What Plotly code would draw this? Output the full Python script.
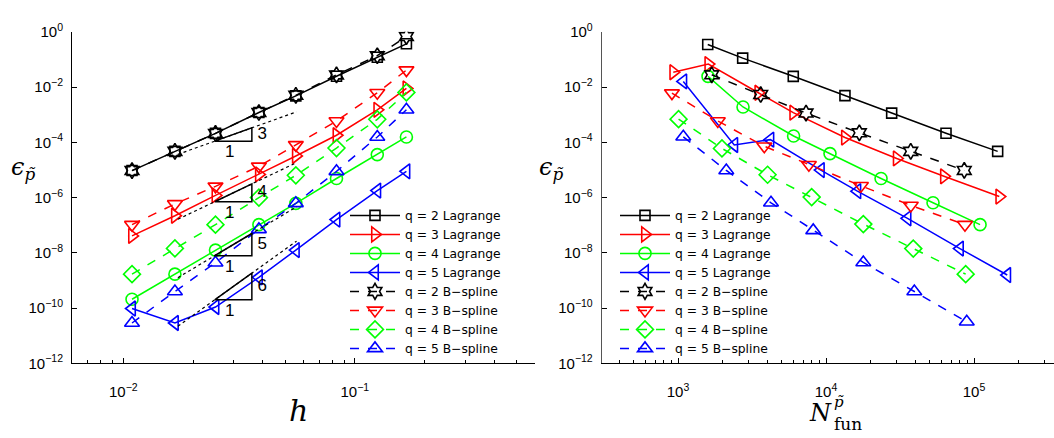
import numpy as np
import plotly.graph_objects as go

# ---------------- data: left panel (error vs mesh size h) ----------------
h = [0.0109, 0.0167, 0.0250, 0.0385, 0.0556, 0.0833, 0.125, 0.167]
left_lag2 = [9.5e-6, 4.7e-5, 2.1e-4, 1.2e-3, 4.8e-3, 2.45e-2, 0.120, 0.366]
left_lag3 = [4.1e-8, 2.2e-7, 1.2e-6, 6.9e-6, 3.2e-5, 1.8e-4, 1.5e-3, 8.9e-3]
left_lag4 = [2.1e-10, 1.7e-9, 1.26e-8, 1.05e-7, 6.2e-7, 4.9e-6, 3.6e-5, 1.56e-4]
left_lag5 = [9.7e-11, 2.9e-11, 1.1e-10, 1.3e-9, 1.26e-8, 1.6e-7, 1.8e-6, 8.9e-6]
left_bsp2 = [9.5e-6, 4.7e-5, 2.1e-4, 1.2e-3, 5.0e-3, 2.75e-2, 0.136, 0.67]
left_bsp3 = [1.05e-7, 5.9e-7, 2.55e-6, 1.35e-5, 8.1e-5, 5.9e-4, 6.2e-3, 4.1e-2]
left_bsp4 = [1.7e-9, 1.45e-8, 1.05e-7, 1.0e-6, 6.4e-6, 6.2e-5, 6.8e-4, 6.4e-3]
left_bsp5 = [2.9e-11, 4.0e-10, 4.4e-9, 7.1e-8, 6.2e-7, 8.9e-6, 1.56e-4, 1.5e-3]

# slope triangles (orders, base error at left corner) and their h extent
slope_orders = [3, 4, 5, 6]
slope_base = [1.1e-4, 7.1e-7, 7.9e-9, 2.0e-10]
tri_h = [0.0248, 0.0359]
ref_h = [0.0172, 0.056]

# ---------------- data: right panel (error vs number of functions) ----------------
N_lag2 = [1588, 2735, 6010, 13430, 27780, 64700, 144500]
E_lag2 = [0.347, 0.111, 0.0244, 4.9e-3, 1.14e-3, 2.14e-4, 4.7e-5]
N_lag3 = [929, 1603, 3490, 6010, 13430, 30060, 62660, 148200]
E_lag3 = [0.0343, 0.0676, 6.2e-3, 1.18e-3, 1.49e-4, 2.6e-5, 5.9e-6, 1.09e-6]
N_lag4 = [1595, 2750, 6040, 10640, 23550, 52860, 109900]
E_lag4 = [0.0244, 1.9e-3, 1.69e-4, 3.9e-5, 4.9e-6, 6.5e-7, 1.05e-7]
N_lag5 = [1086, 2400, 4210, 9230, 16290, 35540, 80340, 167700]
E_lag5 = [0.0159, 8.0e-5, 1.25e-4, 9.9e-6, 1.71e-6, 1.78e-7, 1.43e-8, 1.58e-9]
N_bsp2 = [1690, 3620, 7330, 16800, 37370, 85940]
E_bsp2 = [0.0277, 5.36e-3, 1.14e-3, 2.2e-4, 4.7e-5, 9.6e-6]
N_bsp3 = [910, 1858, 3830, 7660, 17220, 37410, 86900]
E_bsp3 = [6.04e-3, 5.9e-4, 7.2e-5, 1.55e-5, 2.67e-6, 5.2e-7, 1.05e-7]
N_bsp4 = [1009, 1982, 4030, 8000, 17870, 38870, 87870]
E_bsp4 = [6.9e-4, 6.0e-5, 6.7e-6, 1.04e-6, 1.1e-7, 1.43e-8, 1.7e-9]
N_bsp5 = [1086, 2120, 4250, 8200, 17870, 39520, 89300]
E_bsp5 = [1.58e-4, 9.6e-6, 6.5e-7, 6.5e-8, 4.5e-9, 4.0e-10, 3.2e-11]

series_names = ["q = 2 Lagrange", "q = 3 Lagrange", "q = 4 Lagrange", "q = 5 Lagrange",
                "q = 2 B\u2212spline", "q = 3 B\u2212spline", "q = 4 B\u2212spline", "q = 5 B\u2212spline"]

y_tickvals = [1e-12, 1e-10, 1e-8, 1e-6, 1e-4, 1e-2, 1e0]
y_ticktext = ["10<sup>\u221212</sup>", "10<sup>\u221210</sup>", "10<sup>\u22128</sup>",
              "10<sup>\u22126</sup>", "10<sup>\u22124</sup>", "10<sup>\u22122</sup>", "10<sup>0</sup>"]
xl_tickvals = [1e-2, 1e-1]
xl_ticktext = ["10<sup>\u22122</sup>", "10<sup>\u22121</sup>"]
xr_tickvals = [1e3, 1e4, 1e5]
xr_ticktext = ["10<sup>3</sup>", "10<sup>4</sup>", "10<sup>5</sup>"]

# ---------------- styles ----------------
styles = [
    dict(color="#000000", symbol="square-open", size=10, dash="solid"),
    dict(color="#ff0000", symbol="triangle-right-open", size=13, dash="solid"),
    dict(color="#00ff00", symbol="circle-open", size=12, dash="solid"),
    dict(color="#0000ff", symbol="triangle-left-open", size=13, dash="solid"),
    dict(color="#000000", symbol="hexagram-open", size=12, dash="dash"),
    dict(color="#ff0000", symbol="triangle-down-open", size=13, dash="dash"),
    dict(color="#00ff00", symbol="diamond-open", size=13, dash="dash"),
    dict(color="#0000ff", symbol="triangle-up-open", size=13, dash="dash"),
]

W, H = 1054, 438
def px(x):
    return x / W
def py(y):
    return 1 - y / H

fig = go.Figure()

left_sets = [left_lag2, left_lag3, left_lag4, left_lag5, left_bsp2, left_bsp3, left_bsp4, left_bsp5]
right_sets = [(N_lag2, E_lag2), (N_lag3, E_lag3), (N_lag4, E_lag4), (N_lag5, E_lag5),
              (N_bsp2, E_bsp2), (N_bsp3, E_bsp3), (N_bsp4, E_bsp4), (N_bsp5, E_bsp5)]

for name, st, ys in zip(series_names, styles, left_sets):
    fig.add_trace(go.Scatter(
        x=h, y=ys, name=name, mode="lines+markers", legend="legend",
        line=dict(color=st["color"], width=1.5, dash=st["dash"]),
        marker=dict(symbol=st["symbol"], size=st["size"], color=st["color"],
                    line=dict(width=1.6, color=st["color"])),
        xaxis="x", yaxis="y"))

for name, st, (xs, ys) in zip(series_names, styles, right_sets):
    fig.add_trace(go.Scatter(
        x=xs, y=ys, name=name, mode="lines+markers", legend="legend2",
        line=dict(color=st["color"], width=1.5, dash=st["dash"]),
        marker=dict(symbol=st["symbol"], size=st["size"], color=st["color"],
                    line=dict(width=1.6, color=st["color"])),
        xaxis="x2", yaxis="y2"))

# slope triangles, dotted reference lines and labels
ratio = tri_h[1] / tri_h[0]
for q, b in zip(slope_orders, slope_base):
    top = b * ratio ** q
    fig.add_trace(go.Scatter(
        x=[ref_h[0], ref_h[1]], y=[b * (ref_h[0] / tri_h[0]) ** q, b * (ref_h[1] / tri_h[0]) ** q],
        mode="lines", line=dict(color="black", width=1.2, dash="dot"),
        showlegend=False, hoverinfo="skip", xaxis="x", yaxis="y"))
    fig.add_trace(go.Scatter(
        x=[tri_h[0], tri_h[1], tri_h[1], tri_h[0]], y=[b, b, top, b],
        mode="lines", line=dict(color="black", width=1.5),
        showlegend=False, hoverinfo="skip", xaxis="x", yaxis="y"))
    fig.add_trace(go.Scatter(
        x=[tri_h[1] * 1.11, (tri_h[0] * tri_h[1]) ** 0.5 * 0.965],
        y=[(b * top) ** 0.5, b * 0.37],
        text=[str(q), "1"], mode="text",
        textfont=dict(family="Liberation Sans, Arial, sans-serif", size=17, color="black"),
        showlegend=False, hoverinfo="skip", xaxis="x", yaxis="y"))

font_sans = "Liberation Sans, Arial, Helvetica, sans-serif"
font_leg = "DejaVu Sans, Liberation Sans, sans-serif"
font_serif = "DejaVu Serif, Liberation Serif, serif"

axis_common = dict(
    showline=True, linecolor="black", linewidth=1, ticks="inside", ticklen=5,
    tickcolor="black", tickwidth=1, showgrid=False, zeroline=False, mirror=False,
    tickfont=dict(family=font_sans, size=15, color="black"), type="log")

ydom = [py(368.4), py(21.7)]

minor_left = [v * 10.0 ** e for e in (-3, -2, -1) for v in range(2, 10) if 0.006 <= v * 10.0 ** e <= 0.6]
minor_right = [v * 10.0 ** e for e in (2, 3, 4, 5) for v in range(2, 10) if 300 <= v * 10.0 ** e <= 3.4e5]

leg_common = dict(xanchor="left", yanchor="top", bgcolor="rgba(0,0,0,0)", borderwidth=0,
                  itemwidth=50, tracegroupgap=0,
                  font=dict(family=font_leg, size=12.3, color="black"))

fig.update_layout(
    width=W, height=H, margin=dict(l=0, r=0, t=0, b=0),
    paper_bgcolor="white", plot_bgcolor="white",
    showlegend=True,
    xaxis=dict(axis_common, domain=[px(72), px(535)], anchor="y",
               range=[np.log10(0.006), np.log10(0.6)],
               tickvals=xl_tickvals, ticktext=xl_ticktext, ticklabelstandoff=15,
               minor=dict(tickvals=minor_left, ticks="inside", ticklen=3, tickcolor="black", showgrid=False)),
    yaxis=dict(axis_common, domain=ydom, anchor="x", range=[-12, 0],
               tickvals=y_tickvals, ticktext=y_ticktext, ticklabelstandoff=5),
    xaxis2=dict(axis_common, domain=[px(601.7), 1.0], anchor="y2",
                range=[3 - 76.3 / 148, 3 + 376 / 148],
                tickvals=xr_tickvals, ticktext=xr_ticktext, ticklabelstandoff=15,
                minor=dict(tickvals=minor_right, ticks="inside", ticklen=3, tickcolor="black", showgrid=False)),
    yaxis2=dict(axis_common, domain=ydom, anchor="x2", range=[-12, 0],
                tickvals=y_tickvals, ticktext=y_ticktext, linecolor="#555555", ticklabelstandoff=5),
    legend=dict(leg_common, x=px(345), y=py(198.5)),
    legend2=dict(leg_common, x=px(615), y=py(198.5)),
)

annots = [
    dict(x=px(23), y=py(165), text="<i>\u03f5</i><sub><i>p\u0303</i></sub>", font=dict(family=font_serif, size=24)),
    dict(x=px(551), y=py(165), text="<i>\u03f5</i><sub><i>p\u0303</i></sub>", font=dict(family=font_serif, size=24)),
    dict(x=px(298), y=py(418), text="<i>h</i>", font=dict(family=font_serif, size=30)),
    dict(x=px(820), y=py(420), text="<i>N</i>", font=dict(family=font_serif, size=24)),
    dict(x=px(839), y=py(409), text="<i>p\u0303</i>", font=dict(family=font_serif, size=15)),
    dict(x=px(848), y=py(432), text="fun", font=dict(family=font_serif, size=17)),
]
for a in annots:
    fig.add_annotation(xref="paper", yref="paper", showarrow=False, xanchor="center", yanchor="middle",
                       **{k: v for k, v in a.items() if k != "font"},
                       font=dict(a["font"], color="black"))

fig.write_html("out.html")
